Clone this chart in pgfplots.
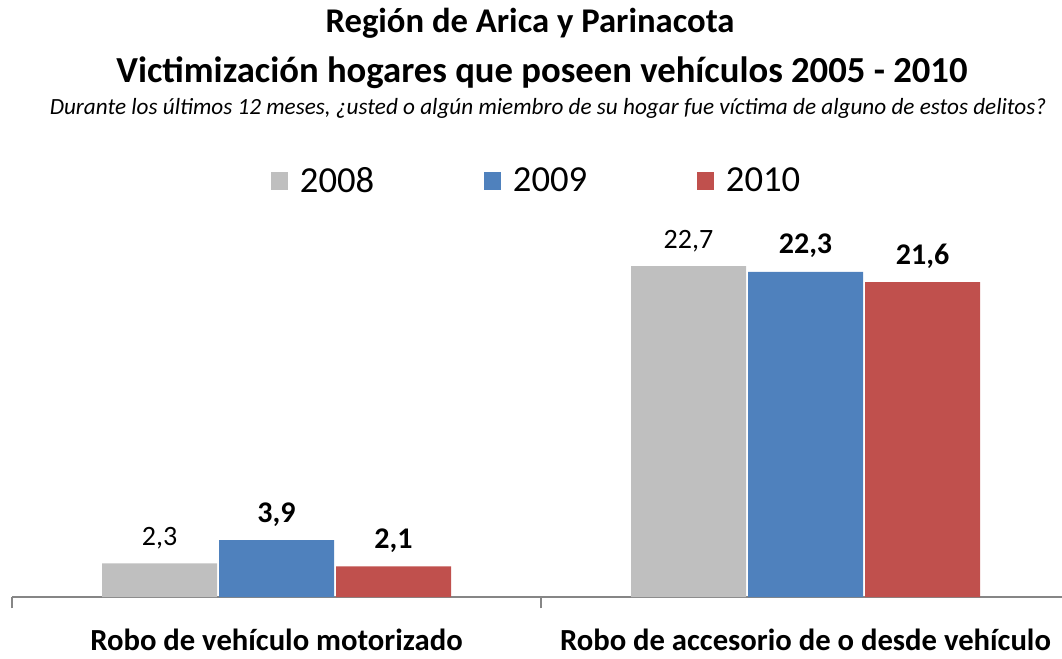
\documentclass[border=0pt]{standalone}
\usepackage{pgfplots}
\pgfplotsset{compat=1.18}
\usepackage{fontspec}
\setmainfont{Carlito}
\definecolor{cgray}{HTML}{BFBFBF}
\definecolor{cblue}{HTML}{4F81BD}
\definecolor{cred}{HTML}{C0504D}
\definecolor{caxis}{HTML}{868686}
\begin{document}
\begin{tikzpicture}
\begin{axis}[
  at={(9pt,46.5pt)}, anchor=south west,
  scale only axis, width=793.5pt, height=273.375pt,
  xmin=-0.5, xmax=1.5, ymin=0, ymax=25,
  ybar=1.5pt, bar width=86.25pt,
  axis x line=bottom, axis y line=none,
  axis line style={caxis, line width=1.5pt, -},
  xtick={0,1},
  xticklabels={Robo de vehículo motorizado, Robo de accesorio de o desde vehículo},
  minor xtick={-0.5,0.5,1.5},
  major tick length=0pt, minor tick length=8.5pt,
  tick align=outside,
  every minor tick/.style={caxis, line width=1.5pt},
  xticklabel style={font=\fontsize{23}{27}\selectfont\bfseries, anchor=base, yshift=-39.75pt},
  clip=false,
  /pgf/number format/assume math mode=true,
  nodes near coords={\pgfmathprintnumber[use comma,fixed,fixed zerofill,precision=1]{\pgfplotspointmeta}},
  nodes near coords align={vertical},
  legend columns=3,
  legend style={at={(axis description cs:0.496,1.141)}, anchor=center, draw=none, fill=none,
    font=\fontsize{27.5}{31}\selectfont,
    /tikz/every odd column/.append style={column sep=7pt},
    /tikz/every even column/.append style={column sep=80pt}},
  legend image code/.code={\fill[#1] (0pt,-6.6pt) rectangle (13pt,6.6pt);},
]
\addplot[fill=cgray, draw=none, every node near coord/.append style={font=\fontsize{21}{25}\selectfont, black, anchor=base, yshift=13.5pt}] coordinates {(0,2.3) (1,22.7)};
\addplot[fill=cblue, draw=none, every node near coord/.append style={font=\fontsize{22.5}{26}\selectfont\bfseries, black, anchor=base, yshift=13.5pt}] coordinates {(0,3.9) (1,22.3)};
\addplot[fill=cred, draw=none, every node near coord/.append style={font=\fontsize{22.5}{26}\selectfont\bfseries, black, anchor=base, yshift=13.5pt}] coordinates {(0,2.1) (1,21.6)};
\legend{2008,2009,2010}
\end{axis}
\begin{scope}[x=0.75pt,y=0.75pt]
\node[anchor=base, font=\fontsize{26}{30}\selectfont\bfseries] at (530,626) {Región de Arica y Parinacota};
\node[anchor=base, font=\fontsize{27.5}{32}\selectfont\bfseries] at (542,576) {Victimización hogares que poseen vehículos 2005 - 2010};
\node[anchor=base, font=\fontsize{17.4}{20}\selectfont\itshape] at (548,544) {Durante los últimos 12 meses, ¿usted o algún miembro de su hogar fue víctima de alguno de estos delitos?};
\end{scope}
\pgfresetboundingbox
\path[use as bounding box] (0,0) rectangle (796.5pt,494.25pt);
\end{tikzpicture}
\end{document}
